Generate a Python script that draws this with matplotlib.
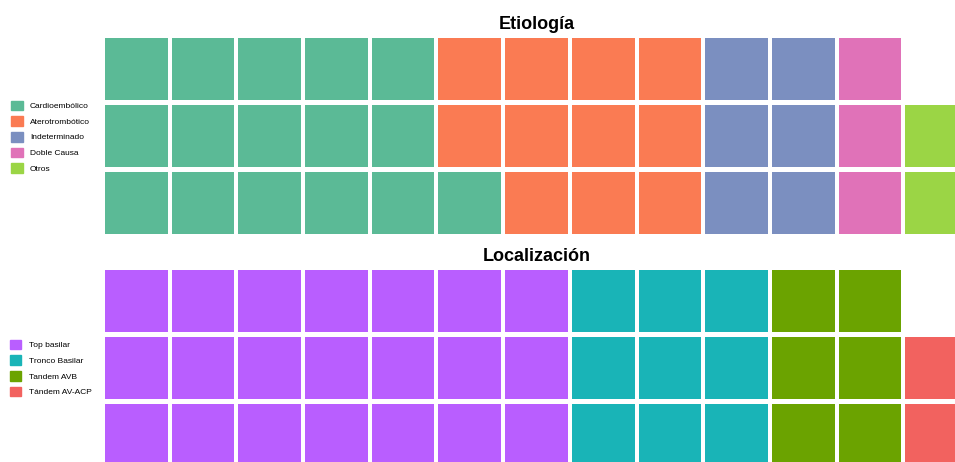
import matplotlib.pyplot as plt
from matplotlib.patches import Patch

plt.rcParams['font.family'] = ['Liberation Sans', 'DejaVu Sans']

# datos
etiologia = ['Cardioembólico', 'Aterotrombótico', 'Indeterminado', 'Doble Causa', 'Otros']
etiologia_n = [16, 11, 6, 3, 2]
etiologia_col = ['#5BBA96', '#FA7B53', '#7B8FC0', '#E072B8', '#9BD545']

localizacion = ['Top basilar', 'Tronco Basilar', 'Tandem AVB', 'Tándem AV-ACP']
localizacion_n = [21, 9, 6, 2]
localizacion_col = ['#B95EFF', '#19B4B7', '#6BA300', '#F2625F']

N_FILAS = 3
N_COLS = 13


def waffle(ax, labels, counts, colors, title):
    # rellena por columnas, de abajo hacia arriba
    k = 0
    for lab, n, c in zip(labels, counts, colors):
        idx = list(range(k, k + n))
        xs = [i // N_FILAS + 0.03 for i in idx]
        ys = [i % N_FILAS + 0.03 for i in idx]
        ax.bar(xs, [0.94] * n, width=0.94, bottom=ys, align='edge', color=c,
               edgecolor='none', label=lab)
        k += n
    ax.set_xlim(0, N_COLS)
    ax.set_ylim(0, N_FILAS)
    ax.axis('off')
    ax.set_title(title, fontsize=13, fontweight='bold', pad=5)


fig = plt.figure(figsize=(9.55, 4.62), dpi=100)
W, H = 955, 462

ax1 = fig.add_axes([103 / W, 1 - 236.5 / H, 867 / W, 201 / H])
ax2 = fig.add_axes([103 / W, 1 - 468.5 / H, 867 / W, 201 / H])

waffle(ax1, etiologia, etiologia_n, etiologia_col, 'Etiología')
waffle(ax2, localizacion, localizacion_n, localizacion_col, 'Localización')

leg_kw = dict(frameon=False, fontsize=6, handlelength=1.4, handleheight=1.4,
              labelspacing=0.72, handletextpad=0.85, borderpad=0, borderaxespad=0,
              loc='center left')
h1 = [Patch(color=c, label=l) for l, c in zip(etiologia, etiologia_col)]
h2 = [Patch(color=c, label=l) for l, c in zip(localizacion, localizacion_col)]
fig.legend(handles=h1, bbox_to_anchor=(11.2 / W, 1 - 136.7 / H), **leg_kw)
fig.legend(handles=h2, bbox_to_anchor=(9.8 / W, 1 - 368 / H), **leg_kw)

plt.savefig('out.png', dpi=100)
